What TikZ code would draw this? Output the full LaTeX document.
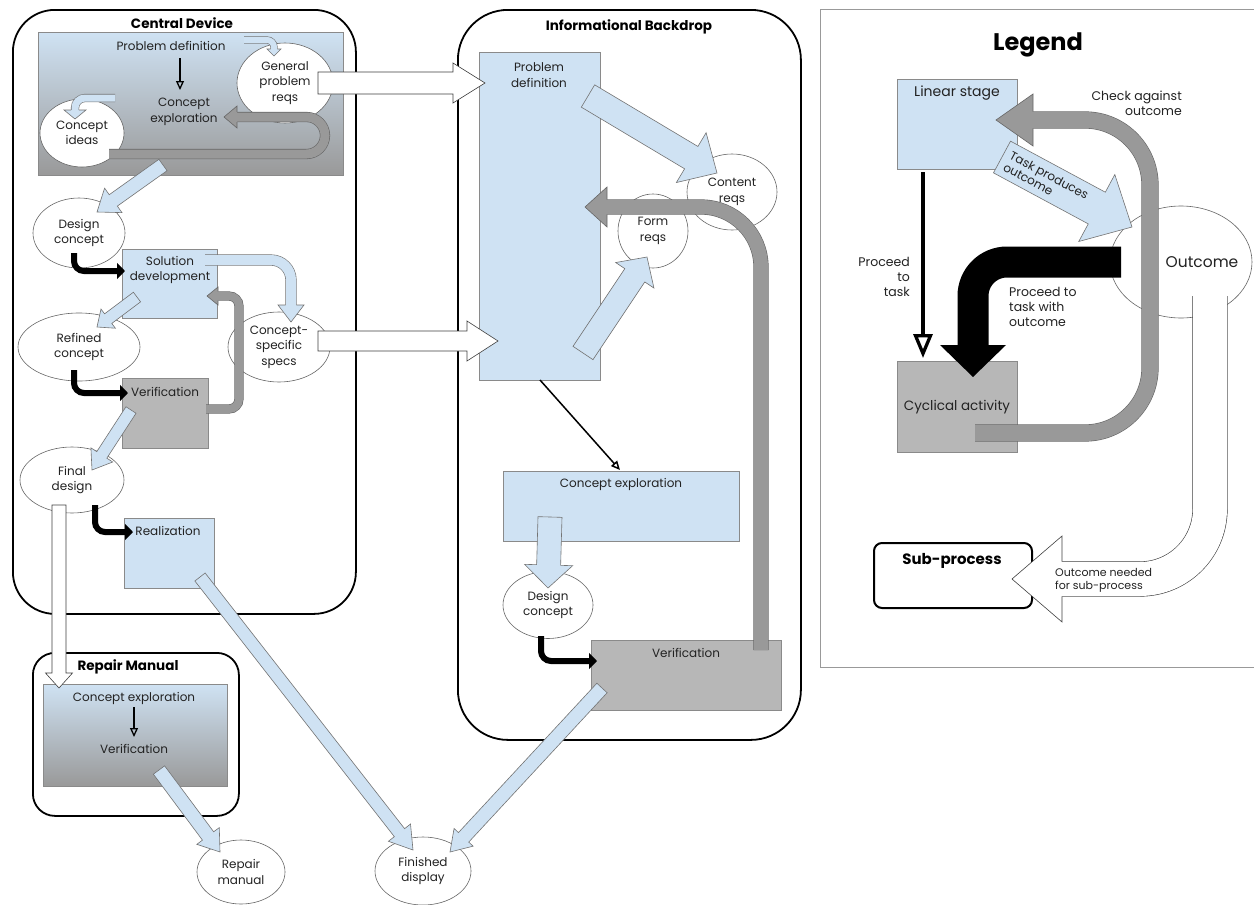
\documentclass[tikz,border=0pt]{standalone}
\usepackage{fontspec}
\setmainfont{Poppins}
\usetikzlibrary{calc,shapes.geometric,arrows.meta}
\definecolor{lblue}{HTML}{CFE2F3}
\definecolor{vgray}{HTML}{B7B7B7}
\definecolor{agray}{HTML}{999999}
\definecolor{ink}{HTML}{222222}
\definecolor{edge}{HTML}{8A8A8A}

% straight block arrow: style, from, to, half shaft, half head, head length
\newcommand\blk[6]{%
  \coordinate (blkh) at ($(#3)!#6!(#2)$);
  \path[#1] ($(#2)!#4!90:(#3)$) -- ($(blkh)!#4!90:(#3)$) -- ($(blkh)!#5!90:(#3)$)
    -- (#3) -- ($(blkh)!#5!-90:(#3)$) -- ($(blkh)!#4!-90:(#3)$) -- ($(#2)!#4!-90:(#3)$) -- cycle;}
% head of a bent block arrow: fill, outline style, base, tip, half shaft, half head
\newcommand\bhd[6]{%
  \fill[#1] ($(#3)!#6!90:(#4)$) -- (#4) -- ($(#3)!#6!-90:(#4)$) -- cycle;
  \draw[#2] ($(#3)!#5!90:(#4)$) -- ($(#3)!#6!90:(#4)$) -- (#4) -- ($(#3)!#6!-90:(#4)$) -- ($(#3)!#5!-90:(#4)$);}

\tikzset{
  txt/.style={font=\fontsize{12}{15.5}\selectfont, text=ink, align=center, inner sep=0pt},
  ltxt/.style={txt, font=\fontsize{12.5}{15}\selectfont},
  ttl/.style={font=\bfseries\fontsize{13.5}{15}\selectfont, inner sep=0pt},
  grp/.style={draw=black, line width=1.8pt, rounded corners=#1, inner sep=0pt, anchor=north west},
  stagebox/.style={draw=edge, line width=0.7pt, fill=lblue, inner sep=0pt, anchor=north west},
  cycbox/.style={draw=edge, line width=0.7pt, fill=vgray, inner sep=0pt, anchor=north west},
  mixbox/.style={draw=edge, line width=0.7pt, top color=lblue, bottom color=agray, inner sep=0pt, anchor=north west},
  outc/.style={ellipse, draw=black!60, line width=0.6pt, fill=white, inner sep=0pt, txt},
  bluearr/.style={fill=lblue, draw=black!55, line width=0.6pt},
  grayarr/.style={fill=agray, draw=black!60, line width=0.6pt},
  whitearr/.style={fill=white, draw=black!75, line width=0.6pt},
  blueline/.style={draw=black!55, line width=0.6pt, double=lblue},
  grayline/.style={draw=black!60, line width=0.6pt, double=agray},
  whiteline/.style={draw=black!75, line width=0.6pt, double=white},
  proceed/.style={line width=6pt, rounded corners=10pt, -{Triangle[length=8pt,width=16pt]}},
  thinflow/.style={line width=1.3pt, -{Triangle[open,length=9pt,width=8pt]}},
}

\begin{document}
\begin{tikzpicture}[x=1pt,y=-1pt]
\useasboundingbox (0,0) rectangle (1254,905);
\fill[white] (0,0) rectangle (1254,905);

%% ---------------- Central Device ----------------
\node[grp=42pt, minimum width=343pt, minimum height=604pt] (cd) at (12,9) {};
\node[ttl] (cdT) at (182,23) {Central Device};
\node[mixbox, minimum width=305pt, minimum height=143pt] (cdtop) at (38,32) {};
\node[txt] (pdA) at (171,46) {Problem definition};
\node[txt] (ceA) at (184,112) {Concept\\exploration};
\coordinate (pdAo) at (180,58); \coordinate (ceAi) at (180,90);
\draw[thinflow] (pdAo) -- (ceAi);
\node[outc, minimum width=96pt, minimum height=80pt] (gpr) at (285,83) {General\\problem\\reqs};
\node[outc, minimum width=84pt, minimum height=68pt] (ci) at (82,133) {Concept\\ideas};

% small feedback arrows inside the top stage
\coordinate (g1) at (244,40); \coordinate (g2) at (274,40); \coordinate (g3) at (274,49); \coordinate (g4) at (274,56);
\draw[blueline, double distance=6pt, rounded corners=7pt] (g1) -- (g2) -- (g3);
\bhd{lblue}{draw=black!55,line width=0.6pt}{g3}{g4}{3.3pt}{7pt}
\coordinate (c1) at (115,98); \coordinate (c2) at (75,98); \coordinate (c3) at (75,110); \coordinate (c4) at (75,119);
\draw[blueline, double distance=7pt, rounded corners=10pt] (c1) -- (c2) -- (c3);
\bhd{lblue}{draw=black!55,line width=0.6pt}{c3}{c4}{3.8pt}{11pt}
\coordinate (u1) at (109,154); \coordinate (u2) at (325,154); \coordinate (u3) at (325,117);
\coordinate (u4) at (237,117); \coordinate (u5) at (224,117);
\draw[grayline, double distance=9pt, rounded corners=18.5pt] (u1) -- (u2) -- (u3) -- (u4);
\bhd{agray}{draw=black!60,line width=0.6pt}{u4}{u5}{5.1pt}{11pt}

% ellipses of the lower chain, drawn before the arrows that point into them
\node[outc, minimum width=92pt, minimum height=70pt] (dc1) at (79,233) {Design\\concept};
\node[outc, minimum width=122pt, minimum height=68pt] (rc) at (79,347) {Refined\\concept};
\node[outc, minimum width=102pt, minimum height=70pt] (cs) at (279,347) {Concept-\\specific\\specs};
\node[outc, minimum width=104pt, minimum height=66pt] (fd) at (72,480) {Final\\design};

\coordinate (s1) at (163,165); \coordinate (t1) at (97,212);
\blk{bluearr}{s1}{t1}{7pt}{15pt}{20pt}

\node[stagebox, minimum width=95pt, minimum height=69pt] (sd) at (122,249) {};
\node[txt] (sdT) at (170,270) {Solution\\development};
\coordinate (dc1o) at (74,253); \coordinate (sdi) at (125,271);
\draw[proceed] (dc1o) |- (sdi);

\coordinate (d1) at (205,260); \coordinate (d2) at (291,260); \coordinate (d3) at (291,305); \coordinate (d4) at (291,322);
\draw[blueline, double distance=10pt, rounded corners=20pt] (d1) -- (d2) -- (d3);
\bhd{lblue}{draw=black!55,line width=0.6pt}{d3}{d4}{5.3pt}{13pt}
\coordinate (s2) at (137,297); \coordinate (t2) at (97,327);
\blk{bluearr}{s2}{t2}{6pt}{12pt}{14pt}

\node[cycbox, minimum width=86pt, minimum height=70pt] (v1) at (122,378) {};
\node[txt] (v1T) at (165,392) {Verification};
\coordinate (rco) at (74,370); \coordinate (v1i) at (128,393);
\draw[proceed] (rco) |- (v1i);

\coordinate (e1) at (206,409); \coordinate (e2) at (239,409); \coordinate (e3) at (239,296);
\coordinate (e4) at (218,296); \coordinate (e5) at (207,296);
\draw[grayline, double distance=8pt, rounded corners=10pt] (e1) -- (e2) -- (e3) -- (e4);
\bhd{agray}{draw=black!60,line width=0.6pt}{e4}{e5}{4.6pt}{9pt}

\coordinate (s3) at (131,410); \coordinate (t3) at (92,470);
\blk{bluearr}{s3}{t3}{6pt}{13pt}{18pt}

\node[stagebox, minimum width=90pt, minimum height=70pt] (re) at (124,518) {};
\node[txt] (reT) at (168,531) {Realization};
\coordinate (fdo) at (95,505); \coordinate (rei) at (133,532);
\draw[proceed] (fdo) |- (rei);

%% ---------------- Repair Manual ----------------
\node[grp=22pt, minimum width=206pt, minimum height=163pt] (rm) at (32,652) {};
\node[ttl] (rmT) at (128,667) {Repair Manual};
\node[mixbox, minimum width=184pt, minimum height=102pt] (rmg) at (43,684) {};
\node[txt] (ceB) at (134,698) {Concept exploration};
\node[txt] (vB) at (134,749) {Verification};
\coordinate (ceBo) at (134,707); \coordinate (vBi) at (134,737);
\draw[thinflow] (ceBo) -- (vBi);

\coordinate (s4) at (59,505); \coordinate (t4) at (59,688);
\blk{whitearr}{s4}{t4}{7pt}{13.5pt}{15pt}

\node[outc, minimum width=88pt, minimum height=64pt] (rman) at (241,872) {Repair\\manual};
\node[outc, minimum width=96pt, minimum height=68pt] (fin) at (423,871) {Finished\\display};

\coordinate (s5) at (159,770); \coordinate (t5) at (220,852);
\blk{bluearr}{s5}{t5}{7pt}{14pt}{20pt}
\coordinate (s6) at (200,577); \coordinate (t6) at (413,850);
\blk{bluearr}{s6}{t6}{6.5pt}{14pt}{22pt}

%% ---------------- Informational Backdrop ----------------
\node[grp=50pt, minimum width=343pt, minimum height=730pt] (ib) at (457,9) {};
\node[ttl] (ibT) at (629,27) {Informational Backdrop};
\node[stagebox, minimum width=121pt, minimum height=328pt] (pd2) at (479,52) {};
\node[txt] (pd2T) at (539,75) {Problem\\definition};

\coordinate (s7) at (318,83); \coordinate (t7) at (485,83);
\blk{whitearr}{s7}{t7}{11pt}{20pt}{32pt}
\coordinate (s8) at (318,341); \coordinate (t8) at (498,341);
\blk{whitearr}{s8}{t8}{10pt}{20pt}{31pt}

\node[outc, minimum width=90pt, minimum height=76pt] (cr) at (732,192) {Content\\reqs};
\node[outc, minimum width=70pt, minimum height=74pt] (fr) at (653,231) {Form\\reqs};

\coordinate (s9) at (588,96); \coordinate (t9) at (717,173);
\blk{bluearr}{s9}{t9}{13pt}{29pt}{30pt}
\coordinate (s10) at (583,353); \coordinate (t10) at (647,257);
\blk{bluearr}{s10}{t10}{12pt}{23pt}{22pt}

\coordinate (pd2o) at (540,380); \coordinate (ce2i) at (620,470);
\draw[thinflow, line width=1.5pt] (pd2o) -- (ce2i);
\node[stagebox, minimum width=236pt, minimum height=70pt] (ce2) at (503,471) {};
\node[txt] (ce2T) at (621,484) {Concept exploration};

\node[outc, minimum width=90pt, minimum height=67pt] (dc2) at (548,605) {Design\\concept};
\coordinate (s11) at (550,517); \coordinate (t11) at (548,588);
\blk{bluearr}{s11}{t11}{12pt}{24pt}{23pt}

\node[cycbox, minimum width=190pt, minimum height=70pt] (v2) at (591,640) {};
\node[txt] (v2T) at (686,653) {Verification};
\coordinate (dc2o) at (541,636); \coordinate (v2i) at (597,661);
\draw[proceed] (dc2o) |- (v2i);

\coordinate (k1) at (761,650); \coordinate (k2) at (761,207); \coordinate (k3) at (607,207); \coordinate (k4) at (585,207);
\draw[grayline, double distance=14pt, rounded corners=60pt] (k1) -- (k2) -- (k3);
\bhd{agray}{draw=black!60,line width=0.6pt}{k3}{k4}{7.3pt}{20pt}

\coordinate (s12) at (602,688); \coordinate (t12) at (450,852);
\blk{bluearr}{s12}{t12}{7pt}{13pt}{20pt}

%% ---------------- Legend ----------------
\draw[agray, line width=1pt] (1254,9) -- (820,9) -- (820,667) -- (1254,667);
\node[font=\bfseries\fontsize{24}{26}\selectfont, inner sep=0pt] (lgT) at (1038,45) {Legend};
\node[stagebox, minimum width=120pt, minimum height=90pt] (ls) at (897,79) {};
\node[txt, font=\fontsize{14}{16}\selectfont] (lsT) at (957,93) {Linear stage};
\node[cycbox, minimum width=120pt, minimum height=91pt] (ca) at (897,361) {};
\node[txt, font=\fontsize{13.5}{16}\selectfont] (caT) at (957,407) {Cyclical activity};
\node[outc, minimum width=142pt, minimum height=112pt] (oc) at (1181,262) {};
\node[txt, font=\fontsize{15.5}{17}\selectfont] (ocT) at (1202,262) {Outcome};

% outcome needed for sub-process
\node[grp=8pt, line width=2pt, minimum width=158pt, minimum height=65pt] (sp) at (873,542) {};
\node[ttl, font=\bfseries\fontsize{15}{17}\selectfont] (spT) at (952,561) {Sub-process};
\coordinate (w1) at (1210,296); \coordinate (w2) at (1210,579); \coordinate (w3) at (1062,579); \coordinate (w4) at (1012,579);
\draw[whiteline, double distance=34pt, rounded corners=70pt] (w1) -- (w2) -- (w3);
\bhd{white}{draw=black!75,line width=0.6pt}{w3}{w4}{17.3pt}{43pt}
\node[txt, font=\fontsize{11}{13}\selectfont, align=left, anchor=west] (wT) at (1055,580) {Outcome needed\\for sub-process};

% check against outcome
\coordinate (q1) at (975,433); \coordinate (q2) at (1150,433); \coordinate (q3) at (1150,120);
\coordinate (q4) at (1033,120); \coordinate (q5) at (996,120);
\draw[grayline, double distance=16pt, rounded corners=65pt] (q1) -- (q2) -- (q3) -- (q4);
\bhd{agray}{draw=black!60,line width=0.6pt}{q4}{q5}{8.3pt}{26pt}
\node[ltxt, align=right, anchor=east] (qT) at (1182,103) {Check against\\outcome};

% proceed to task with outcome
\coordinate (b1) at (1121,262); \coordinate (b2) at (973,262); \coordinate (b3) at (973,345); \coordinate (b4) at (973,377);
\draw[black, line width=31pt, rounded corners=34pt] (b1) -- (b2) -- (b3);
\fill[black] ($(b3)!33pt!90:(b4)$) -- (b4) -- ($(b3)!33pt!-90:(b4)$) -- cycle;
\node[ltxt, align=left, anchor=west] (bT) at (1009,307) {Proceed to\\task with\\outcome};

% task produces outcome
\coordinate (s13) at (1002,157); \coordinate (t13) at (1132,227);
\blk{bluearr}{s13}{t13}{18pt}{38pt}{40pt}
\node[ltxt, font=\fontsize{12}{13.5}\selectfont, align=left, rotate=-28.3] (tpT) at (1046,181) {Task produces\\outcome};

% proceed to task
\coordinate (lso) at (923,172); \coordinate (cai) at (923,358);
\draw[line width=3.3pt, -{Triangle[open,length=24pt,width=19pt]}] (lso) -- (cai);
\node[ltxt, align=right, anchor=east] (pT) at (910,277) {Proceed\\to\\task};
\end{tikzpicture}
\end{document}
